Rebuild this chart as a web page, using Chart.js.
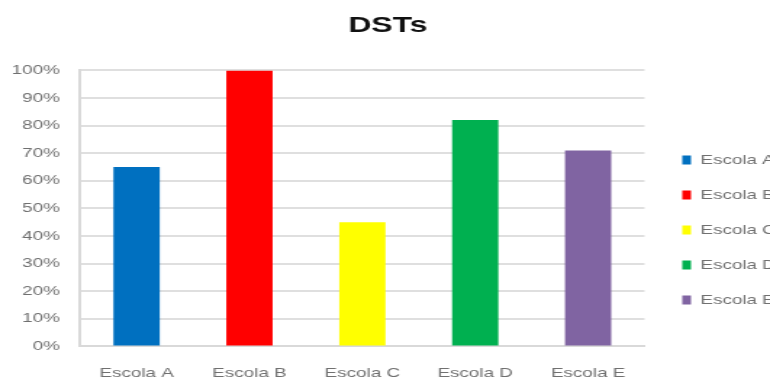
<!DOCTYPE html>
<html>
<head>
<meta charset="utf-8">
<script src="https://cdn.jsdelivr.net/npm/chart.js@4"></script>
<style>
  html, body { margin: 0; padding: 0; background: #fff; }
  /* the reference is a horizontally stretched picture, so the canvas
     is drawn narrow and stretched to the 770px window */
  #chart { width: 770px; height: 383px; }
</style>
</head>
<body>
<canvas id="chart" width="531" height="383" style="width:770px;height:383px"></canvas>
<script>
// data
const escolas = ['Escola A', 'Escola B', 'Escola C', 'Escola D', 'Escola E'];
const dstValues = [65, 100, 45, 82, 71];
const barColors = ['#0070c0', '#ff0000', '#ffff00', '#00b050', '#8064a2'];
const yTicks = [0, 10, 20, 30, 40, 50, 60, 70, 80, 90, 100];

const fontFam = '"Liberation Sans", Arial, sans-serif';
const textGrey = '#707070';

const moveLegend = {
    id: 'moveLegend',
    afterLayout: chart => {
        // nudge the legend to where the reference has it
        const lg = chart.legend;
        lg.left += 4; lg.right += 4;
        lg.top += 30; lg.bottom += 30;
    }
};

const ctx = document.getElementById('chart').getContext('2d');
new Chart(ctx, {
    type: 'bar',
    data: {
        labels: escolas,
        datasets: [{
            label: 'DSTs',
            data: dstValues,
            backgroundColor: barColors,
            borderWidth: 0,
            categoryPercentage: 1,
            barPercentage: 0.41
        }]
    },
    plugins: [moveLegend],
    options: {
        responsive: false,
        maintainAspectRatio: false,
        animation: false,
        layout: {
            padding: { left: -6, right: -10, top: 0, bottom: -17 }
        },
        scales: {
            x: {
                grid: { display: false, drawTicks: false, tickLength: 0 },
                border: { display: true, color: '#d9d9d9', width: 2 },
                ticks: {
                    color: textGrey,
                    font: { family: fontFam, size: 13 },
                    padding: 19,
                    maxRotation: 0
                }
            },
            y: {
                min: 0,
                max: 100,
                afterBuildTicks: axis => {
                    axis.ticks = yTicks.map(v => ({ value: v }));
                },
                grid: { color: '#dfdfdf', lineWidth: 2, tickLength: 0, drawTicks: false },
                border: { display: true, color: '#d9d9d9', width: 2 },
                ticks: {
                    color: textGrey,
                    font: { family: fontFam, size: 13 },
                    padding: 14,
                    callback: v => v + '%'
                }
            }
        },
        plugins: {
            title: {
                display: true,
                text: 'DSTs',
                color: '#111',
                font: { family: fontFam, size: 22, weight: 'bold' },
                padding: { top: 13, bottom: 31 }
            },
            legend: {
                position: 'right',
                labels: {
                    color: textGrey,
                    font: { family: fontFam, size: 13 },
                    boxWidth: 6,
                    boxHeight: 9,
                    padding: 22,
                    generateLabels: chart => escolas.map((name, i) => ({
                        text: name,
                        fillStyle: barColors[i],
                        strokeStyle: barColors[i],
                        fontColor: textGrey,
                        lineWidth: 0,
                        index: i
                    }))
                }
            },
            tooltip: { enabled: false }
        }
    }
});
</script>
</body>
</html>
